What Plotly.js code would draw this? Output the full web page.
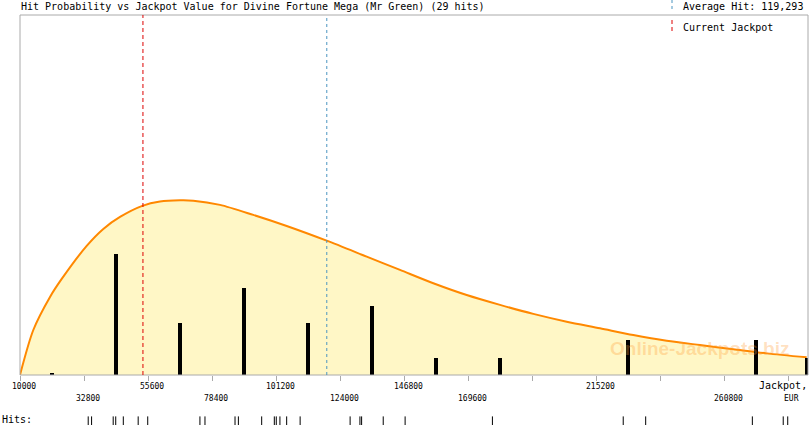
<!DOCTYPE html>
<html>
<head>
<meta charset="utf-8">
<script src="https://cdn.plot.ly/plotly-3.0.1.min.js"></script>
<style>
  html, body { margin: 0; padding: 0; background: #fff; }
  #chart { width: 810px; height: 425px; }
</style>
</head>
<body>
<div id="chart"></div>
<script>
// Readings from the picture
const chartTitle = 'Hit Probability vs Jackpot Value for Divine Fortune Mega (Mr Green) (29 hits)';
const averageHit = 119293;
const currentJackpot = 53800;

// probability curve (in "hits" units, same scale as the bars)
const curveX = [10000, 14740, 20690, 24860, 33760, 39680, 45630, 53570, 59880, 67000, 71740,
  81250, 93110, 105010, 119260, 133510, 145380, 157240, 169130, 181000, 192860,
  204760, 216630, 228480, 240380, 252250, 264120, 276000, 290250];
const curveY = [0, 2.6, 4.51, 5.55, 7.46, 8.44, 9.13, 9.77, 10.02, 10.09, 10.07,
  9.83, 9.25, 8.61, 7.76, 6.84, 6.07, 5.3, 4.62, 4.05, 3.53,
  3.08, 2.7, 2.31, 1.98, 1.73, 1.49, 1.25, 1.02];

// hit counts per bin
const binCenters = [21400, 44200, 67000, 89800, 112600, 135400, 158200, 181000, 226600, 272200, 290200];
const binCounts = [0.1, 7, 3, 5, 3, 4, 1, 1, 2, 2, 1];

// individual hits (strip at the bottom)
const hits = [34300, 35500, 43200, 44100, 46800, 52100, 55500, 74100, 75900, 86600, 87800,
  96100, 100600, 101300, 102600, 105000, 109800, 127600, 131100, 131700, 139400,
  147200, 178300, 224900, 232900, 270900, 281900, 283500];

// axis ticks and the two rows of labels
const tickVals = [10000, 32800, 55600, 78400, 101200, 124000, 146800, 169600, 192400, 215200, 238000, 260800, 283600];
const labelsRow1 = [10000, 55600, 101200, 146800, 215200];
const labelsRow2 = [32800, 78400, 124000, 169600, 260800];

const W = 810, H = 425;
const M = { l: 20, r: 2, t: 15, b: 0 };
const px = x => (x - M.l) / (W - M.l - M.r);
const py = y => (H - M.b - y) / (H - M.t - M.b);

const mono = 'DejaVu Sans Mono, monospace';
const gray = '#aaaaaa';
const red = '#dd0000';
const blue = '#4a94c0';

const traces = [
  {
    x: curveX, y: curveY, type: 'scatter', mode: 'lines',
    line: { color: '#ff8800', width: 2, shape: 'spline', smoothing: 0.8 },
    fill: 'tozeroy', fillcolor: '#fff7c6',
    hoverinfo: 'skip', zorder: 0
  },
  {
    x: binCenters, y: binCounts, type: 'bar', width: 1100,
    marker: { color: '#000000', line: { width: 0 } },
    hoverinfo: 'skip', zorder: 1
  },
  {
    x: hits, y: hits.map(() => 0), type: 'scatter', mode: 'markers',
    xaxis: 'x', yaxis: 'y2',
    marker: { symbol: 'line-ns', size: 8, color: '#000', line: { color: '#000', width: 1 } },
    cliponaxis: false, hoverinfo: 'skip'
  }
];

const annotations = [
  { text: chartTitle, xref: 'paper', yref: 'paper', x: px(19), y: py(7), xanchor: 'left', yanchor: 'middle',
    showarrow: false, font: { family: mono, size: 10, color: '#000' } },
  { text: 'Average Hit: 119,293', xref: 'paper', yref: 'paper', x: px(681), y: py(7), xanchor: 'left', yanchor: 'middle',
    showarrow: false, font: { family: mono, size: 10, color: '#000' } },
  { text: 'Current Jackpot', xref: 'paper', yref: 'paper', x: px(681), y: py(27), xanchor: 'left', yanchor: 'middle',
    showarrow: false, font: { family: mono, size: 10, color: '#000' } },
  { text: 'Jackpot,', xref: 'paper', yref: 'paper', x: px(809), y: py(385), xanchor: 'right', yanchor: 'middle',
    showarrow: false, font: { family: mono, size: 10, color: '#000' } },
  { text: 'EUR', xref: 'paper', yref: 'paper', x: px(791), y: py(398), xanchor: 'center', yanchor: 'middle',
    showarrow: false, font: { family: mono, size: 8, color: '#000' } },
  { text: 'Hits:', xref: 'paper', yref: 'paper', x: px(0), y: py(419), xanchor: 'left', yanchor: 'middle',
    showarrow: false, font: { family: mono, size: 10, color: '#000' } },
  { text: '<b>Online-Jackpots.biz</b>', xref: 'paper', yref: 'paper', x: px(699), y: py(348),
    xanchor: 'center', yanchor: 'middle', showarrow: false,
    font: { family: 'Liberation Sans, Arial, sans-serif', size: 19, color: 'rgba(255,160,60,0.32)' } }
];

labelsRow1.forEach(v => annotations.push({
  text: String(v), xref: 'x', yref: 'paper', x: v, y: py(386), xshift: 4,
  xanchor: 'center', yanchor: 'middle', showarrow: false,
  font: { family: mono, size: 8, color: '#000' }
}));
labelsRow2.forEach(v => annotations.push({
  text: String(v), xref: 'x', yref: 'paper', x: v, y: py(398), xshift: 4,
  xanchor: 'center', yanchor: 'middle', showarrow: false,
  font: { family: mono, size: 8, color: '#000' }
}));

const shapes = [
  // plot frame
  { type: 'rect', xref: 'x domain', yref: 'y domain', x0: 0, x1: 1, y0: 0, y1: 1,
    line: { color: gray, width: 1 }, fillcolor: 'rgba(0,0,0,0)', layer: 'above' },
  { type: 'line', xref: 'x', yref: 'y domain', x0: currentJackpot, x1: currentJackpot, y0: 0, y1: 1,
    line: { color: red, width: 1, dash: '4px,3px' }, layer: 'above' },
  { type: 'line', xref: 'x', yref: 'y domain', x0: averageHit, x1: averageHit, y0: 0, y1: 1,
    line: { color: blue, width: 1, dash: '3px,3px' }, layer: 'above' },
  // legend markers
  { type: 'line', xref: 'paper', yref: 'paper', x0: px(672), x1: px(672), y0: py(0), y1: py(11),
    line: { color: blue, width: 1, dash: '3px,3px' } },
  { type: 'line', xref: 'paper', yref: 'paper', x0: px(672), x1: px(672), y0: py(20), y1: py(34),
    line: { color: red, width: 1, dash: '4px,3px' } }
];

const layout = {
  width: W, height: H,
  margin: M,
  paper_bgcolor: '#ffffff', plot_bgcolor: '#ffffff',
  showlegend: false,
  bargap: 0,
  xaxis: {
    range: [10000, 290725], anchor: 'y',
    showline: false,
    ticks: 'outside', tickmode: 'array', tickvals: tickVals, ticklen: 5, tickcolor: gray, tickwidth: 1,
    showticklabels: false, showgrid: false, zeroline: false, fixedrange: true
  },
  yaxis: {
    domain: [50 / 410, 1], range: [0, 20.8],
    showline: false,
    showticklabels: false, ticks: '', showgrid: false, zeroline: false, fixedrange: true
  },
  yaxis2: {
    domain: [0, 6 / 410], range: [-1, 1], visible: false, fixedrange: true
  },
  annotations: annotations,
  shapes: shapes
};

Plotly.newPlot('chart', traces, layout, { displayModeBar: false, staticPlot: true });
</script>
</body>
</html>
